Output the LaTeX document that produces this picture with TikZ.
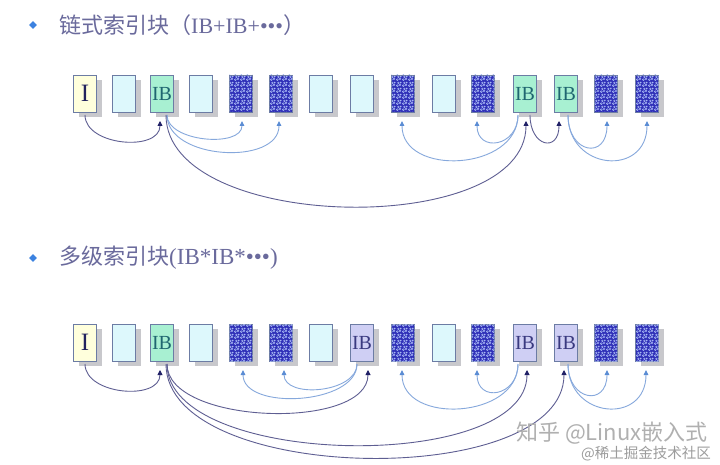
\documentclass[tikz,border=0pt]{standalone}
\usepackage{fontspec}
\setmainfont{Liberation Serif}
\newfontfamily\cjk{Noto Sans CJK SC}
\usetikzlibrary{shadows,patterns.meta,calc,arrows.meta,shapes.geometric}
\definecolor{ttl}{HTML}{6A6A9C}
\definecolor{bullet}{HTML}{3C82E0}
\definecolor{bord}{HTML}{6C7CA4}
\definecolor{shd}{HTML}{C8C8CC}
\definecolor{yelfill}{HTML}{FFFFDC}
\definecolor{cyanfill}{HTML}{DDF8FC}
\definecolor{greenfill}{HTML}{A8F0D2}
\definecolor{lavfill}{HTML}{CFCFF4}
\definecolor{dotblue}{HTML}{3030B8}
\definecolor{dotlight}{HTML}{A8B8F4}
\definecolor{navy}{HTML}{22225E}
\definecolor{tealtext}{HTML}{1F6670}
\definecolor{lavtext}{HTML}{3A3A80}
\definecolor{dkline}{HTML}{5E5E92}
\definecolor{dktip}{HTML}{202066}
\definecolor{ltline}{HTML}{86A8DC}
\definecolor{lttip}{HTML}{5A8CD4}
\definecolor{wmone}{HTML}{B0B0B0}
\definecolor{wmtwo}{HTML}{9C9C9C}
\tikzdeclarepattern{name=bubbles, type=uncolored,
  bounding box={(0pt,0pt) and (6pt,6pt)}, tile size={(6pt,6pt)},
  code={\pgfsetlinewidth{0.55pt}
    \pgfpathcircle{\pgfpoint{1.5pt}{1.5pt}}{1.1pt}
    \pgfpathcircle{\pgfpoint{4.6pt}{2.4pt}}{1.0pt}
    \pgfpathcircle{\pgfpoint{2.6pt}{4.7pt}}{0.9pt}
    \pgfpathcircle{\pgfpoint{5.4pt}{5.2pt}}{0.6pt}
    \pgfusepath{stroke}}}
\newcommand{\mylink}[6]{\draw[#1] ($(#2.south)+(#3,3)$) .. controls +(0,#6) and +(0,#6) .. ($(#4.south)+(#5,9)$);}
\begin{document}
\begin{tikzpicture}[x=1pt,y=-1pt,
 blk/.style={draw=bord, line width=0.7pt, minimum width=23pt, minimum height=37pt, inner sep=0pt, outer sep=0pt,
   drop shadow={opacity=1, fill=shd, shadow xshift=5pt, shadow yshift=-5pt}, font=\fontsize{20}{20}\selectfont},
 iblk/.style={blk, fill=yelfill, text=navy, font=\fontsize{25}{25}\selectfont},
 eblk/.style={blk, fill=cyanfill},
 gblk/.style={blk, fill=greenfill, text=tealtext},
 lblk/.style={blk, fill=lavfill, text=lavtext},
 dblk/.style={blk, fill=dotblue, postaction={pattern=bubbles, pattern color=dotlight}},
 dk/.style={draw=dkline, line width=0.9pt, -{Triangle[length=5pt, width=5pt, color=dktip]}},
 lt/.style={draw=ltline, line width=0.9pt, -{Triangle[length=5pt, width=4.5pt, color=lttip]}},
 bul/.style={diamond, fill=bullet, minimum size=8pt, inner sep=0pt},
 ttlnode/.style={anchor=west, inner sep=0pt, text=ttl}
]
\fill[white] (0,0) rectangle (720,465);
\useasboundingbox (0,0) rectangle (720,465);

% titles
\node[bul] (bul1) at (33,25) {};
\node[ttlnode] (title1) at (59,25) {{\cjk\fontsize{22}{22}\selectfont 链式索引块（}{\fontsize{22}{22}\selectfont IB+IB+•••}{\cjk\fontsize{22}{22}\selectfont ）}};
\node[bul] (bul2) at (33,258) {};
\node[ttlnode] (title2) at (59,258) {{\cjk\fontsize{22}{22}\selectfont 多级索引块}{\fontsize{23}{23}\selectfont (IB*IB*•••)}};

% top row
\node[iblk] (t1) at (85,93.5) {I};
\node[eblk] (t2) at (124,93.5) {};
\node[gblk] (t3) at (162,93.5) {IB};
\node[eblk] (t4) at (201,93.5) {};
\node[dblk] (t5) at (241,93.5) {};
\node[dblk] (t6) at (281,93.5) {};
\node[eblk] (t7) at (321,93.5) {};
\node[eblk] (t8) at (362,93.5) {};
\node[dblk] (t9) at (403,93.5) {};
\node[eblk] (t10) at (444,93.5) {};
\node[dblk] (t11) at (483,93.5) {};
\node[gblk] (t12) at (525,93.5) {IB};
\node[gblk] (t13) at (566,93.5) {IB};
\node[dblk] (t14) at (606,93.5) {};
\node[dblk] (t15) at (647,93.5) {};

% bottom row
\node[iblk] (m1) at (85,342.5) {I};
\node[eblk] (m2) at (124,342.5) {};
\node[gblk] (m3) at (162,342.5) {IB};
\node[eblk] (m4) at (201,342.5) {};
\node[dblk] (m5) at (241,342.5) {};
\node[dblk] (m6) at (281,342.5) {};
\node[eblk] (m7) at (321,342.5) {};
\node[lblk] (m8) at (362,342.5) {IB};
\node[dblk] (m9) at (403,342.5) {};
\node[eblk] (m10) at (444,342.5) {};
\node[dblk] (m11) at (483,342.5) {};
\node[lblk] (m12) at (525,342.5) {IB};
\node[lblk] (m13) at (566,342.5) {IB};
\node[dblk] (m14) at (606,342.5) {};
\node[dblk] (m15) at (647,342.5) {};

% top links
\mylink{dk}{t1}{0}{t3}{-2}{31}
\mylink{lt}{t3}{5}{t5}{1}{27}
\mylink{lt}{t3}{5}{t6}{-2}{45}
\mylink{dk}{t3}{4}{t12}{1}{118}
\mylink{lt}{t12}{-7}{t9}{-1}{56}
\mylink{lt}{t12}{-7}{t11}{-6}{32}
\mylink{dk}{t12}{5}{t13}{-7}{32}
\mylink{lt}{t13}{2}{t14}{1}{39}
\mylink{lt}{t13}{2}{t15}{0}{56}

% bottom links
\mylink{dk}{m1}{0}{m3}{-2}{31}
\mylink{dk}{m3}{5}{m8}{6}{61}
\mylink{dk}{m3}{5}{m12}{2}{104}
\mylink{dk}{m3}{4}{m13}{-2}{121}
\mylink{lt}{m8}{-5}{m5}{2}{41}
\mylink{lt}{m8}{-5}{m6}{3}{29}
\mylink{lt}{m12}{-7}{m9}{-1}{55}
\mylink{lt}{m12}{-7}{m11}{-6}{33}
\mylink{lt}{m13}{2}{m14}{1}{37}
\mylink{lt}{m13}{2}{m15}{-1}{55}

% watermark
\node[anchor=west, inner sep=0pt, text=wmone] (wm1) at (516,433) {\cjk\fontsize{22}{22}\selectfont 知乎 @Linux嵌入式};
\node[anchor=west, inner sep=0pt, text=wmtwo] (wm2) at (581,454) {\cjk\fontsize{14.5}{14.5}\selectfont @稀土掘金技术社区};
\end{tikzpicture}
\end{document}
